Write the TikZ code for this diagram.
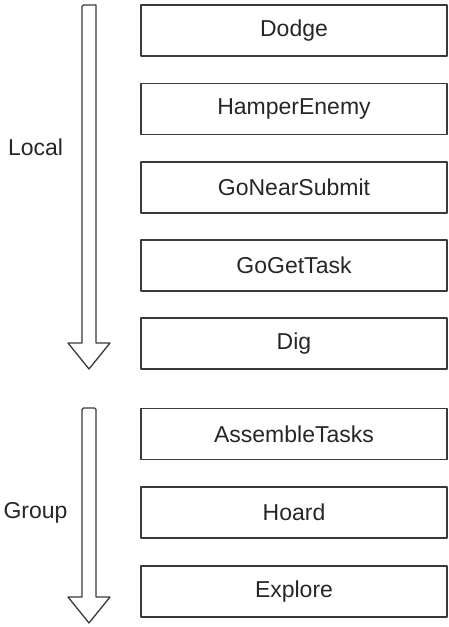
\documentclass[tikz,border=0pt]{standalone}
\usepackage{fontspec}
\setmainfont{Liberation Sans}
\definecolor{edge}{HTML}{3A3A3A}
\definecolor{ink}{HTML}{262626}
\begin{document}
\begin{tikzpicture}[x=1pt,y=-1pt,
  line join=round,
  behavior/.style={draw=edge, line width=1.3pt, minimum width=306pt, minimum height=51pt,
    inner sep=0pt, text=ink, font=\fontsize{23}{26}\selectfont},
  tier/.style={text=ink, font=\fontsize{23}{26}\selectfont, inner sep=0pt},
  flow/.style={draw=edge, line width=1.3pt, fill=white}]
\useasboundingbox (0,0) rectangle (449,627);

% behaviour boxes, highest priority first
\foreach \name/\label/\yc in {dodge/Dodge/30.5, hamper/HamperEnemy/109, near/GoNearSubmit/187.5,
    gettask/GoGetTask/265.5, dig/Dig/343.5, assemble/AssembleTasks/434, hoard/Hoard/512.5,
    explore/Explore/591.5}
  \node[behavior] (\name) at (294,\yc) {\label};

% hollow priority arrows
\draw[flow] (82,9) -- (82,343) -- (68,343) -- (89,369) -- (110,343) -- (96,343) -- (96,5) [rounded corners=1.5pt] -- (82,5) -- cycle;
\draw[flow] (82,410) [rounded corners=1.5pt] -- (82,408) -- (96,408) [sharp corners] -- (96,597) -- (110,597) -- (89,623) -- (68,597) -- (82,597) -- cycle;

% tier labels
\node[tier] (local) at (35.5,147) {Local};
\node[tier] (group) at (35.5,513) {Group};
\end{tikzpicture}
\end{document}
